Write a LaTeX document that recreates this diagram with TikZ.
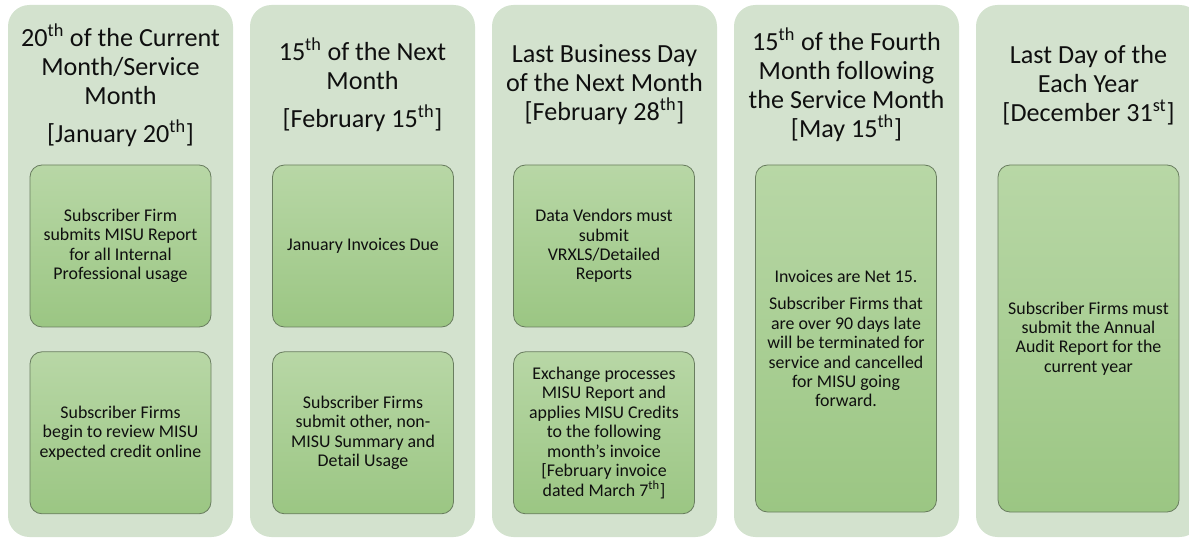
\documentclass[tikz,border=0pt]{standalone}
\usepackage{fontspec}
\setmainfont{Carlito}
\usetikzlibrary{positioning}
\definecolor{colfill}{RGB}{211,226,206}
\definecolor{tasktop}{RGB}{184,215,166}
\definecolor{taskbot}{RGB}{155,198,131}
\definecolor{taskline}{RGB}{105,125,95}
\definecolor{inktext}{RGB}{15,15,15}
\begin{document}
\begin{tikzpicture}[x=0.75pt,y=-0.75pt,
	column/.style={fill=colfill,draw=none,rounded corners=16pt},
	head/.style={align=center,font=\fontsize{19.6}{21.75}\selectfont,text=inktext,inner sep=0pt},
	task/.style={draw=taskline,line width=0.6pt,rounded corners=9pt,top color=tasktop,bottom color=taskbot,minimum width=135.75pt,minimum height=121.5pt,align=center,font=\fontsize{13.4}{14.6}\selectfont,text=inktext,inner sep=2pt},
	tall/.style={task,minimum height=260.25pt},
	node distance=18pt]
				\useasboundingbox (0,0) rectangle (1189,538);
				\draw[column] (8,5) rectangle (233,537);
				\draw[column] (250,5) rectangle (475,537);
				\draw[column] (492,5) rectangle (717,537);
				\draw[column] (734,5) rectangle (959,537);
				\draw[column] (976,5) rectangle (1201,537);
				\node[head] (h1) at (120.5,85) {20\textsuperscript{th} of the Current\\Month/Service\\Month\\[7pt][January 20\textsuperscript{th}]};
				\node[head] (h2) at (362.5,85) {15\textsuperscript{th} of the Next\\Month\\[7pt][February 15\textsuperscript{th}]};
				\node[head] (h3) at (604.5,85) {Last Business Day\\of the Next Month\\[0pt][February 28\textsuperscript{th}]};
				\node[head] (h4) at (846.5,85) {15\textsuperscript{th} of the Fourth\\Month following\\the Service Month\\[0pt][May 15\textsuperscript{th}]};
				\node[head] (h5) at (1088.5,85) {Last Day of the\\Each Year\\[0pt][December 31\textsuperscript{st}]};
				\node[task] (t1a) at (120.5,246) {Subscriber Firm\\submits MISU Report\\for all Internal\\Professional usage};
				\node[task,below=of t1a] (t1b) {Subscriber Firms\\begin to review MISU\\expected credit online};
				\node[task] (t2a) at (363,246) {January Invoices Due};
				\node[task,below=of t2a] (t2b) {Subscriber Firms\\submit other, non-\\MISU Summary and\\Detail Usage};
				\node[task] (t3a) at (604,246) {Data Vendors must\\submit\\VRXLS/Detailed\\Reports};
				\node[task,below=of t3a] (t3b) {Exchange processes\\MISU Report and\\applies MISU Credits\\to the following\\month’s invoice\\[0pt][February invoice\\dated March 7\textsuperscript{th}]};
				\node[tall] (t4) at (846,338.5) {Invoices are Net 15.\\[6pt]Subscriber Firms that\\are over 90 days late\\will be terminated for\\service and cancelled\\for MISU going\\forward.};
				\node[tall] (t5) at (1088.5,338.5) {Subscriber Firms must\\submit the Annual\\Audit Report for the\\current year};
				\end{tikzpicture}
\end{document}
